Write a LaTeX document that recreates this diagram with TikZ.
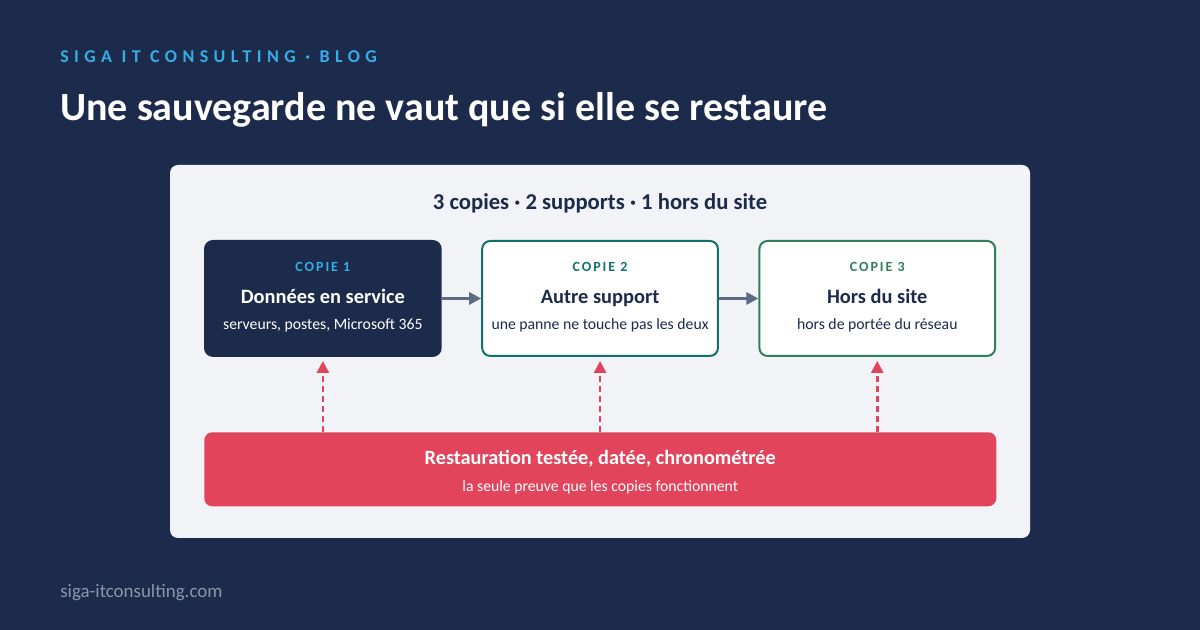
\documentclass[tikz,border=0pt]{standalone}
\usepackage{fontspec}
\setmainfont{Carlito}
\newfontfamily\trackfont[LetterSpace=30]{Carlito}
\newfontfamily\tagfont[LetterSpace=14]{Carlito}
\usetikzlibrary{arrows.meta,positioning}
\usepackage{xcolor}
\definecolor{Night}{HTML}{1C2B4B}
\definecolor{SkyBlue}{HTML}{35AEE6}
\definecolor{PanelGray}{HTML}{F2F3F7}
\definecolor{DeepTeal}{HTML}{11706F}
\definecolor{LeafGreen}{HTML}{2F7F5B}
\definecolor{AlertRed}{HTML}{E2445C}
\definecolor{SlateGray}{HTML}{5B6B85}
\definecolor{FootGray}{HTML}{8C96AA}

\begin{document}
\begin{tikzpicture}[x=0.75pt, y=-0.75pt,
  copybox/.style={rounded corners=6pt, minimum width=176.8pt, minimum height=86.2pt,
                  line width=1.5pt, inner sep=0pt},
  tag/.style={anchor=base, font=\tagfont\bfseries\fontsize{10.5}{12}\selectfont},
  boxtitle/.style={anchor=base, font=\bfseries\fontsize{15.3}{18}\selectfont, text=Night},
  boxnote/.style={anchor=base, font=\fontsize{11.8}{14}\selectfont, text=Night},
  flow/.style={-{Triangle[length=9pt,width=9pt]}, line width=2.2pt, draw=SlateGray},
  proof/.style={-{Triangle[length=9pt,width=9pt]}, line width=2pt, draw=AlertRed,
                dash pattern=on 4.5pt off 3pt, shorten >=3pt},
  node distance=29.6pt
]
  % background and panel
  \fill[Night] (0,0) rectangle (1200,630);
  \useasboundingbox (0,0) rectangle (1200,630);
  \fill[PanelGray, rounded corners=6pt] (170,165) rectangle (1030,538);

  % heading
  \node[anchor=base west, inner sep=0pt, text=SkyBlue,
        font=\trackfont\bfseries\fontsize{13.5}{16}\selectfont] (blog) at (60,63)
    {SIGA IT CONSULTING · BLOG};
  \node[anchor=base west, inner sep=0pt, text=white,
        font=\bfseries\fontsize{30}{36}\selectfont] (headline) at (60,121)
    {Une sauvegarde ne vaut que si elle se restaure};
  \node[anchor=base, inner sep=0pt, text=Night,
        font=\bfseries\fontsize{17}{20}\selectfont] (rule) at (600,210)
    {3 copies · 2 supports · 1 hors du site};

  % the three copies
  \node[copybox, fill=Night, draw=Night, anchor=north west] (copy1) at (204,240) {};
  \node[copybox, fill=white, draw=DeepTeal, right=of copy1] (copy2) {};
  \node[copybox, fill=white, draw=LeafGreen, right=of copy2] (copy3) {};

  \node[tag, text=SkyBlue] at ([yshift=-23.4pt]copy1.north) {COPIE 1};
  \node[boxtitle, text=white] at ([yshift=-47.4pt]copy1.north) {Données en service};
  \node[boxnote, text=white] at ([yshift=-67.2pt]copy1.north) {serveurs, postes, Microsoft 365};

  \node[tag, text=DeepTeal] at ([yshift=-23.4pt]copy2.north) {COPIE 2};
  \node[boxtitle] at ([yshift=-47.4pt]copy2.north) {Autre support};
  \node[boxnote] at ([yshift=-67.2pt]copy2.north) {une panne ne touche pas les deux};

  \node[tag, text=LeafGreen] at ([yshift=-23.4pt]copy3.north) {COPIE 3};
  \node[boxtitle] at ([yshift=-47.4pt]copy3.north) {Hors du site};
  \node[boxnote] at ([yshift=-67.2pt]copy3.north) {hors de portée du réseau};

  \draw[flow] (copy1) -- (copy2);
  \draw[flow] (copy2) -- (copy3);

  % restore test
  \node[fill=AlertRed, rounded corners=6pt, anchor=north west, inner sep=0pt,
        minimum width=594pt, minimum height=55.5pt] (restore) at (204,432) {};
  \node[anchor=base, text=white, font=\bfseries\fontsize{15.2}{18}\selectfont]
    at ([yshift=-24.4pt]restore.north) {Restauration testée, datée, chronométrée};
  \node[anchor=base, text=white, font=\fontsize{11.8}{14}\selectfont]
    at ([yshift=-44.6pt]restore.north) {la seule preuve que les copies fonctionnent};

  \foreach \c in {copy1,copy2,copy3}
    \draw[proof] (restore.north -| \c.south) -- (\c.south);

  % footer
  \node[anchor=base west, inner sep=0pt, text=FootGray,
        font=\fontsize{14.2}{16}\selectfont] (site) at (60,598) {siga-itconsulting.com};
\end{tikzpicture}
\end{document}
